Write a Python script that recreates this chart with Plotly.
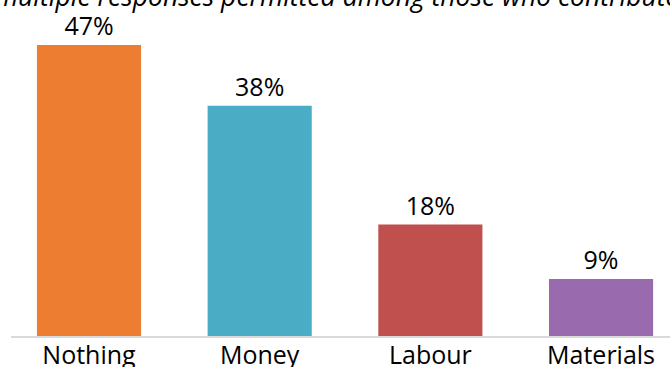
import plotly.graph_objects as go

categories = ["Nothing", "Money", "Labour", "Materials"]
values = [47, 37.2, 18, 9.2]
labels = ["47%", "38%", "18%", "9%"]
colors = ["#ED7D31", "#4BACC6", "#C0504D", "#9A6AAF"]
subtitle = "multiple responses permitted among those who contributed"

FONT = "Open Sans"

fig = go.Figure(go.Bar(
    x=categories,
    y=values,
    text=labels,
    texttemplate="%{text}",
    textposition="outside",
    cliponaxis=False,
    marker=dict(color=colors, line=dict(width=0)),
    textfont=dict(family=FONT, size=25, color="#000000"),
    hoverinfo="skip",
))

fig.update_layout(
    width=670, height=367,
    margin=dict(l=11, r=0, t=0, b=31, autoexpand=False),
    paper_bgcolor="white", plot_bgcolor="white",
    bargap=0.39,
    showlegend=False,
    font=dict(family=FONT, size=25, color="#000000"),
    xaxis=dict(
        type="category",
        categoryorder="array", categoryarray=categories,
        range=[-0.457, 3.404],
        automargin=False,
        showline=True, linecolor="#D9D9D9", linewidth=2,
        showgrid=False, zeroline=False, ticks="",
        ticklabelstandoff=-4,
        tickfont=dict(family=FONT, size=25, color="#000000"),
        fixedrange=True,
    ),
    yaxis=dict(
        range=[0, 54.27],
        visible=False, showgrid=False, zeroline=False,
        automargin=False,
        fixedrange=True,
    ),
    annotations=[dict(
        text="<i>" + subtitle + "</i>",
        xref="paper", yref="paper",
        x=-18 / 659, y=1.0 + 4 / 336,
        xanchor="left", yanchor="middle",
        showarrow=False,
        font=dict(family=FONT, size=26.5, color="#000000"),
    )],
)

fig.write_html("out.html")
